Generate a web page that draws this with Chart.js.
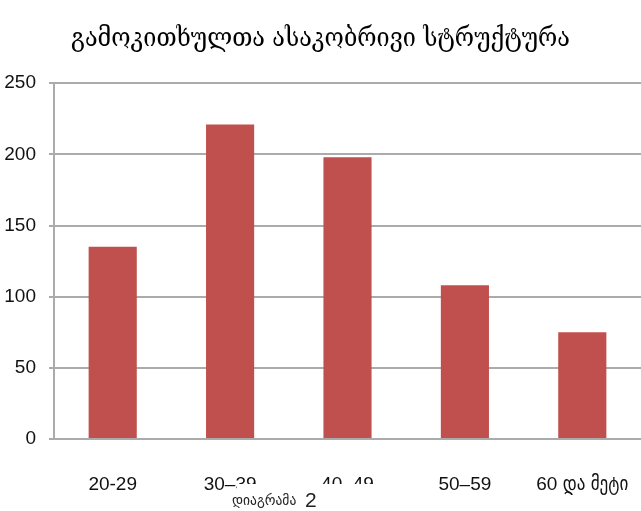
<!DOCTYPE html>
<html>
<head>
<meta charset="utf-8">
<script src="https://cdn.jsdelivr.net/npm/chart.js@4"></script>
<style>
  html, body { margin: 0; padding: 0; background: #fff; }
  #wrap { position: relative; width: 641px; height: 511px; }
  #caption {
    position: absolute; left: 237px; top: 484px; width: 150px; height: 27px;
    background: #fff; color: #222; font-family: "DejaVu Sans Condensed", "DejaVu Sans", sans-serif;
    white-space: nowrap;
  }
  #caption .ka { position: absolute; left: -5px; top: 7px; font-size: 15px; }
  #caption .num { position: absolute; left: 68px; top: 4px; font-size: 21px; font-family: "Liberation Sans", sans-serif; }
</style>
</head>
<body>
<div id="wrap">
  <canvas id="chart" width="641" height="511"></canvas>
  <div id="caption"><span class="ka">დიაგრამა</span><span class="num">2</span></div>
</div>
<script>
const title = 'გამოკითხულთა ასაკობრივი სტრუქტურა';
const ageGroups = ['20-29', '30–39', '40–49', '50–59', '60 და მეტი'];
const respondents = [135, 221, 198, 108, 75];
const yTicks = [0, 50, 100, 150, 200, 250];

const labelFont = { family: '"Liberation Sans", "DejaVu Sans Condensed", sans-serif', size: 19 };

new Chart(document.getElementById('chart'), {
  type: 'bar',
  data: {
    labels: ageGroups,
    datasets: [{
      data: respondents,
      backgroundColor: '#c0504d',
      borderWidth: 0,
      categoryPercentage: 1,
      barPercentage: 0.41
    }]
  },
  options: {
    responsive: false,
    animation: false,
    layout: { padding: 0 },
    plugins: {
      legend: { display: false },
      tooltip: { enabled: false },
      title: {
        display: true,
        text: title,
        color: '#000',
        font: { family: '"DejaVu Serif Condensed", "DejaVu Serif", serif', size: 26, weight: 'normal' },
        padding: { top: 24, bottom: 28 }
      }
    },
    scales: {
      x: {
        grid: { display: false, drawTicks: false },
        border: { display: false },
        ticks: { color: '#111', font: labelFont, padding: 34 },
        afterFit: s => { s.height = 72; s.paddingRight = 0; s.paddingLeft = 0; }
      },
      y: {
        min: yTicks[0],
        max: yTicks[yTicks.length - 1],
        afterBuildTicks: axis => { axis.ticks = yTicks.map(v => ({ value: v })); },
        grid: { color: '#ababab', lineWidth: 2, tickLength: 5 },
        border: { color: '#ababab', width: 2 },
        ticks: { color: '#111', font: labelFont, padding: 13 },
        afterFit: s => { s.width = 54; }
      }
    }
  }
});
</script>
</body>
</html>
